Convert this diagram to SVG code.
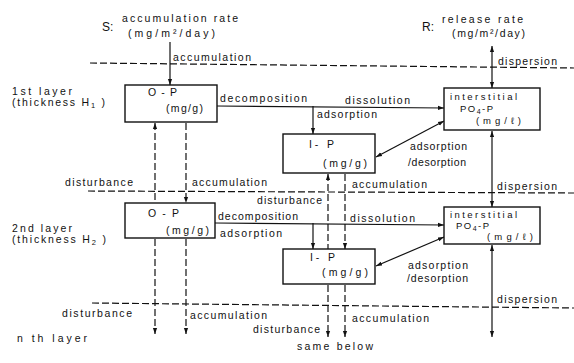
<svg xmlns="http://www.w3.org/2000/svg" width="574" height="363" viewBox="0 0 574 363">
<style>
text{font-family:"Liberation Sans",Arial,sans-serif;font-size:10.5px;fill:#111}
.big{font-size:12px}
.sm{font-size:9.5px}
.box{fill:#fff;stroke:#111;stroke-width:1.4}
.ln{fill:none;stroke:#111;stroke-width:1.2}
.ds{fill:none;stroke:#111;stroke-width:1.2;stroke-dasharray:7 3}
.ar{marker-end:url(#ah)}
.ar2{marker-start:url(#ah);marker-end:url(#ah)}
.arS{marker-start:url(#ah)}
</style>
<defs>
<marker id="ah" viewBox="0 0 10 10" refX="10" refY="5" markerWidth="6" markerHeight="6" markerUnits="userSpaceOnUse" orient="auto-start-reverse">
<path d="M0,1.5 L10,5 L0,8.5 z" fill="#111"/>
</marker>
</defs>
<rect width="574" height="363" fill="#fff"/>

<g id="connectors">
<line class="ds" x1="90" y1="63" x2="574" y2="68"/>
<line class="ds" x1="88" y1="191" x2="574" y2="193"/>
<line class="ds" x1="92" y1="303" x2="574" y2="308"/>
<line class="ln ar" x1="170" y1="42" x2="170" y2="85"/>
<line class="ln ar2" x1="492" y1="46" x2="492" y2="88"/>
<line class="ln ar" x1="217" y1="106" x2="444" y2="108"/>
<line class="ln ar" x1="313" y1="106" x2="313" y2="134"/>
<line class="ln ar2" x1="376" y1="157" x2="444" y2="121"/>
<line class="ds arS" x1="155" y1="123" x2="155" y2="203"/>
<line class="ds ar" x1="186" y1="123" x2="186" y2="203"/>
<line class="ds arS" x1="328" y1="174" x2="328" y2="249"/>
<line class="ds ar" x1="345" y1="174" x2="345" y2="249"/>
<line class="ln ar2" x1="492" y1="131" x2="492" y2="207"/>
<line class="ln ar" x1="215" y1="223" x2="444" y2="225"/>
<line class="ln ar" x1="313" y1="223" x2="313" y2="249"/>
<line class="ln ar2" x1="376" y1="266" x2="444" y2="237"/>
<line class="ds ar" x1="155" y1="239" x2="155" y2="334"/>
<line class="ds ar" x1="186" y1="239" x2="186" y2="334"/>
<line class="ds ar" x1="328" y1="285" x2="328" y2="337"/>
<line class="ds ar" x1="345" y1="285" x2="345" y2="337"/>
<line class="ln ar2" x1="492" y1="245" x2="492" y2="337"/>
</g>

<g id="op1">
<rect class="box" x="125" y="85" width="92" height="37"/>
<text x="148" y="96" textLength="29">O-P</text>
<text x="166" y="112" textLength="37">(mg/g)</text>
</g>
<g id="ip1">
<rect class="box" x="283" y="134" width="92" height="39"/>
<text x="309" y="148" textLength="25">I- P</text>
<text x="323" y="167" textLength="44">(mg/g)</text>
</g>
<g id="pw1">
<rect class="box" x="444" y="88" width="96" height="42"/>
<text class="sm" x="450" y="100" textLength="67">interstitial</text>
<text class="sm" x="460" y="112" textLength="33">PO<tspan font-size="7" dy="1.5">4</tspan><tspan dy="-1.5">-P</tspan></text>
<text class="sm" x="476" y="124" textLength="45">(mg/ℓ)</text>
</g>
<g id="op2">
<rect class="box" x="125" y="203" width="90" height="35"/>
<text x="148" y="217" textLength="31">O-P</text>
<text x="166" y="234" textLength="43">(mg/g)</text>
</g>
<g id="ip2">
<rect class="box" x="283" y="249" width="92" height="35"/>
<text x="310" y="261" textLength="25">I- P</text>
<text x="322" y="276" textLength="46">(mg/g)</text>
</g>
<g id="pw2">
<rect class="box" x="444" y="207" width="96" height="37"/>
<text class="sm" x="450" y="218" textLength="67">interstitial</text>
<text class="sm" x="456" y="229" textLength="33">PO<tspan font-size="7" dy="1.5">4</tspan><tspan dy="-1.5">-P</tspan></text>
<text class="sm" x="487" y="240" textLength="46">(mg/ℓ)</text>
</g>

<g id="labels">
<text class="big" x="102" y="31">S:</text>
<text x="122" y="22" textLength="116">accumulation  rate</text>
<text x="128" y="37" textLength="87">(mg/m²/day)</text>
<text class="big" x="422" y="31">R:</text>
<text x="442" y="23" textLength="81">release  rate</text>
<text x="452" y="37" textLength="73">(mg/m²/day)</text>
<text x="173" y="61" textLength="78">accumulation</text>
<text x="498" y="65" textLength="59">dispersion</text>
<text x="12" y="95" textLength="60">1st  layer</text>
<text x="12" y="106" textLength="93">(thickness  H<tspan font-size="7.5" dy="1.5">1</tspan><tspan dy="-1.5"> )</tspan></text>
<text x="220" y="102" textLength="87">decomposition</text>
<text x="345" y="104" textLength="65">dissolution</text>
<text x="317" y="118" textLength="60">adsorption</text>
<text x="410" y="150" textLength="57">adsorption</text>
<text x="408" y="166" textLength="58">/desorption</text>
<text x="65" y="186" textLength="68">disturbance</text>
<text x="192" y="186" textLength="75">accumulation</text>
<text x="257" y="204" textLength="65">disturbance</text>
<text x="352" y="188" textLength="75">accumulation</text>
<text x="497" y="190" textLength="60">dispersion</text>
<text x="12" y="232" textLength="60">2nd  layer</text>
<text x="12" y="243" textLength="94">(thickness  H<tspan font-size="7.5" dy="1.5">2</tspan><tspan dy="-1.5"> )</tspan></text>
<text x="218" y="220" textLength="80">decomposition</text>
<text x="220" y="237" textLength="62">adsorption</text>
<text x="350" y="222" textLength="65">dissolution</text>
<text x="408" y="269" textLength="60">adsorption</text>
<text x="407" y="282" textLength="61">/desorption</text>
<text x="497" y="303" textLength="60">dispersion</text>
<text x="62" y="317" textLength="70">disturbance</text>
<text x="190" y="319" textLength="77">accumulation</text>
<text x="253" y="333" textLength="67">disturbance</text>
<text x="352" y="322" textLength="77">accumulation</text>
<text x="297" y="350" textLength="76">same  below</text>
<text x="17" y="342" textLength="70">n  th  layer</text>
</g>
</svg>
